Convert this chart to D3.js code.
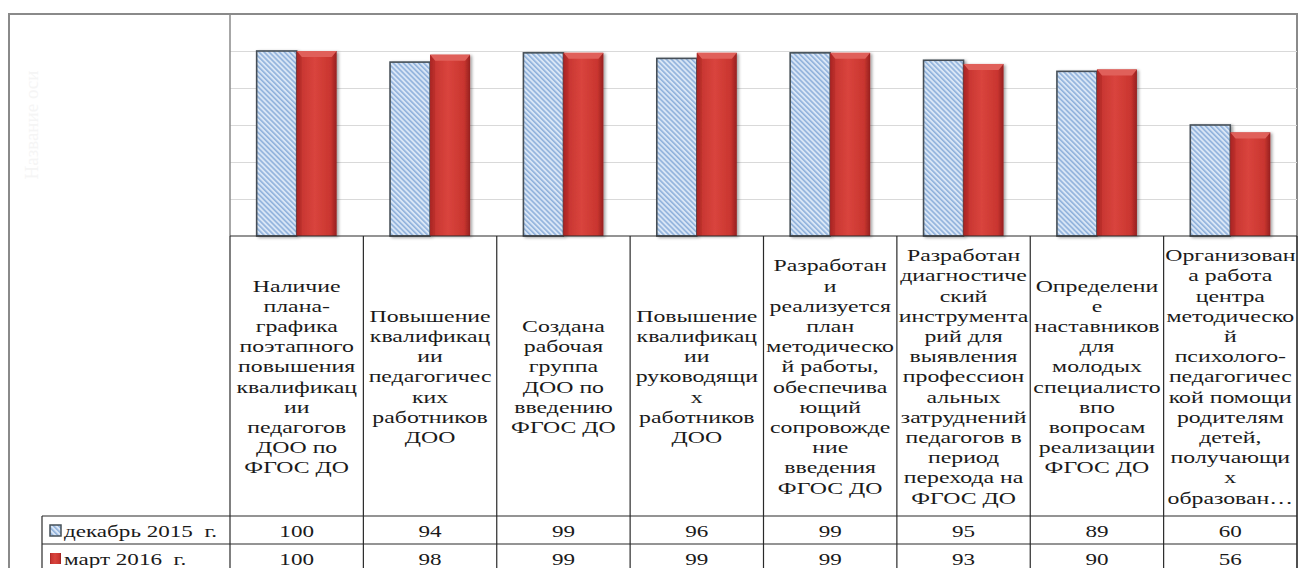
<!DOCTYPE html>
<html>
<head>
<meta charset="utf-8">
<script src="https://d3js.org/d3.v7.min.js"></script>
<style>
  html, body { margin: 0; padding: 0; background: #fff; }
  svg { display: block; }
  text { font-family: "Liberation Serif", "DejaVu Serif", serif; }
</style>
</head>
<body>
<svg id="chart" width="1299" height="568"></svg>
<script>
// Category labels, wrapped the way the cells of the data table wrap them
const categories = [
  "Наличие\nплана-\nграфика\nпоэтапного\nповышения\nквалификац\nии\nпедагогов\nДОО по\nФГОС ДО",
  "Повышение\nквалификац\nии\nпедагогичес\nких\nработников\nДОО",
  "Создана\nрабочая\nгруппа\nДОО по\nвведению\nФГОС ДО",
  "Повышение\nквалификац\nии\nруководящи\nх\nработников\nДОО",
  "Разработан\nи\nреализуется\nплан\nметодическо\nй работы,\nобеспечива\nющий\nсопровожде\nние\nвведения\nФГОС ДО",
  "Разработан\nдиагностиче\nский\nинструмента\nрий для\nвыявления\nпрофессион\nальных\nзатруднений\nпедагогов в\nпериод\nперехода на\nФГОС ДО",
  "Определени\nе\nнаставников\nдля\nмолодых\nспециалисто\nвпо\nвопросам\nреализации\nФГОС ДО",
  "Организован\nа работа\nцентра\nметодическо\nй\nпсихолого-\nпедагогичес\nкой помощи\nродителям\nдетей,\nполучающи\nх\nобразован…"
];
const seriesNames = ["декабрь 2015  г.", "март 2016  г."];
const dec2015 = [100, 94, 99, 96, 99, 95, 89, 60];
const mar2016 = [100, 98, 99, 99, 99, 93, 90, 56];
const gridTicks = [20, 40, 60, 80, 100];
const axisTitle = "Название оси";

const series = [dec2015, mar2016];

const svg = d3.select("#chart");

const plotLeft = 230, plotRight = 1297, plotTop = 14, plotBottom = 236;
const headBottom = 516, rowH = 28, legendLeft = 42;
const sx = 1.4; // the source picture is stretched sideways

const x = d3.scaleBand()
  .domain(d3.range(categories.length))
  .range([plotLeft, plotRight])
  .paddingInner(0.4)
  .paddingOuter(0.2);

const x1 = d3.scaleBand()
  .domain(d3.range(series.length))
  .range([0, x.bandwidth()]);

const y = d3.scaleLinear().domain([0, 120]).range([plotBottom, plotTop]);

const step = x.step();
const colEdge = (i) => plotLeft + i * step;

// defs: stripes for the blue series, gradient for the red one, shadow
const defs = svg.append("defs");
const pat = defs.append("pattern")
  .attr("id", "stripes")
  .attr("patternUnits", "userSpaceOnUse")
  .attr("width", 3.6)
  .attr("height", 3.6)
  .attr("patternTransform", "rotate(-45)");
pat.append("rect").attr("width", 3.6).attr("height", 3.6).attr("fill", "#d9e6f6");
pat.append("rect").attr("width", 1.6).attr("height", 3.6).attr("fill", "#8fb1db");

const grad = defs.append("linearGradient")
  .attr("id", "redGrad")
  .attr("x1", "0%").attr("x2", "100%").attr("y1", "0%").attr("y2", "0%");
[
  ["0%", "#9e2020"],
  ["10%", "#c73531"],
  ["45%", "#d9443d"],
  ["85%", "#c9352f"],
  ["100%", "#962020"]
].forEach(([o, c]) => grad.append("stop").attr("offset", o).attr("stop-color", c));

const shadow = defs.append("filter")
  .attr("id", "shadow")
  .attr("x", "-20%").attr("y", "-5%")
  .attr("width", "150%").attr("height", "115%");
shadow.append("feDropShadow")
  .attr("dx", 2).attr("dy", 1)
  .attr("stdDeviation", 1.5)
  .attr("flood-color", "#000")
  .attr("flood-opacity", 0.35);

// outer frame
svg.append("rect")
  .attr("x", 9).attr("y", plotTop)
  .attr("width", plotRight - 9).attr("height", 600)
  .attr("fill", "none")
  .attr("stroke", "#8a8a8a")
  .attr("stroke-width", 2);

// faint axis title (nearly white in the source)
svg.append("text")
  .attr("transform", "translate(31,125) rotate(-90)")
  .attr("text-anchor", "middle")
  .attr("dominant-baseline", "central")
  .attr("font-size", 19)
  .attr("fill", "#f5f5f5")
  .text(axisTitle);

// gridlines
svg.append("g")
  .selectAll("line")
  .data(gridTicks)
  .join("line")
  .attr("x1", plotLeft).attr("x2", plotRight)
  .attr("y1", (d) => Math.round(y(d)) + 0.5)
  .attr("y2", (d) => Math.round(y(d)) + 0.5)
  .attr("stroke", "#d9d9d9")
  .attr("stroke-width", 1);

// plot area left edge
svg.append("line")
  .attr("x1", plotLeft).attr("x2", plotLeft)
  .attr("y1", plotTop).attr("y2", plotBottom)
  .attr("stroke", "#8a8a8a")
  .attr("stroke-width", 1.5);

// bars
const groups = svg.append("g")
  .selectAll("g")
  .data(categories)
  .join("g")
  .attr("transform", (d, i) => `translate(${x(i)},0)`);

groups.each(function (d, i) {
  const g = d3.select(this);
  series.forEach((s, k) => {
    const bx = x1(k), bw = x1.bandwidth();
    const top = y(s[i]), h = plotBottom - top;
    if (k === 0) {
      g.append("rect")
        .attr("x", bx).attr("y", top)
        .attr("width", bw).attr("height", h)
        .attr("fill", "url(#stripes)")
        .attr("stroke", "#465058")
        .attr("stroke-width", 1.6)
        .attr("filter", "url(#shadow)");
    } else {
      const bg = g.append("g").attr("filter", "url(#shadow)");
      bg.append("rect")
        .attr("x", bx).attr("y", top)
        .attr("width", bw).attr("height", h)
        .attr("fill", "url(#redGrad)");
      bg.append("path")
        .attr("d", `M${bx},${top}L${bx + bw},${top}L${bx + bw - 5},${top + 6}L${bx + 5},${top + 6}Z`)
        .attr("fill", "#e0605a");
      bg.append("path")
        .attr("d", `M${bx},${top}L${bx + 5},${top + 6}L${bx + 5},${plotBottom}L${bx},${plotBottom}Z`)
        .attr("fill", "#b02a28")
        .attr("opacity", 0.6);
    }
  });
});

// data table grid
const tbl = svg.append("g")
  .attr("stroke", "#2a2a2a")
  .attr("stroke-width", 1.2);

tbl.append("line")
  .attr("x1", plotLeft).attr("x2", plotRight)
  .attr("y1", plotBottom).attr("y2", plotBottom);

[headBottom, headBottom + rowH, headBottom + 2 * rowH].forEach((yy) => {
  tbl.append("line")
    .attr("x1", legendLeft).attr("x2", plotRight)
    .attr("y1", yy).attr("y2", yy);
});

tbl.selectAll("line.col")
  .data(d3.range(categories.length + 1))
  .join("line")
  .attr("class", "col")
  .attr("x1", (i) => colEdge(i)).attr("x2", (i) => colEdge(i))
  .attr("y1", plotBottom).attr("y2", 600);

tbl.append("line")
  .attr("x1", legendLeft).attr("x2", legendLeft)
  .attr("y1", headBottom).attr("y2", 600);

// header labels: one text element per line
const lineH = 20.2;
const headMid = (plotBottom + headBottom) / 2;

const headG = svg.append("g");
categories.forEach((d, i) => {
  const lines = d.split("\n");
  const y0 = headMid - (lines.length * lineH) / 2 + lineH * 0.78;
  headG.append("g")
    .selectAll("text")
    .data(lines)
    .join("text")
    .attr("font-size", 17)
    .attr("fill", "#1a1a1a")
    .attr("text-anchor", "middle")
    .attr("dominant-baseline", "central")
    .attr("transform", (l, j) => `translate(${x(i) + x.bandwidth() / 2},${y0 - 5 + j * lineH}) scale(${sx},1)`)
    .text((l) => l);
});

// table values
series.forEach((s, k) => {
  const cy = headBottom + k * rowH + rowH / 2 + 1;
  svg.append("g")
    .selectAll("text")
    .data(s)
    .join("text")
    .attr("font-size", 16.5)
    .attr("fill", "#1a1a1a")
    .attr("text-anchor", "middle")
    .attr("dominant-baseline", "central")
    .attr("transform", (d, i) => `translate(${x(i) + x.bandwidth() / 2},${cy}) scale(${sx},1)`)
    .text((d) => d);
});

// legend keys in the table
seriesNames.forEach((name, k) => {
  const cy = headBottom + k * rowH + rowH / 2 + 1;
  if (k === 0) {
    svg.append("rect")
      .attr("x", 50).attr("y", cy - 6)
      .attr("width", 11).attr("height", 11)
      .attr("fill", "url(#stripes)")
      .attr("stroke", "#465058")
      .attr("stroke-width", 1.5);
  } else {
    svg.append("rect")
      .attr("x", 50).attr("y", cy - 6)
      .attr("width", 11).attr("height", 11)
      .attr("fill", "url(#redGrad)");
  }
  svg.append("text")
    .attr("font-size", 16.5)
    .attr("fill", "#1a1a1a")
    .attr("dominant-baseline", "central")
    .attr("transform", `translate(64,${cy}) scale(${sx},1)`)
    .attr("xml:space", "preserve")
    .text(name);
});
</script>
</body>
</html>
